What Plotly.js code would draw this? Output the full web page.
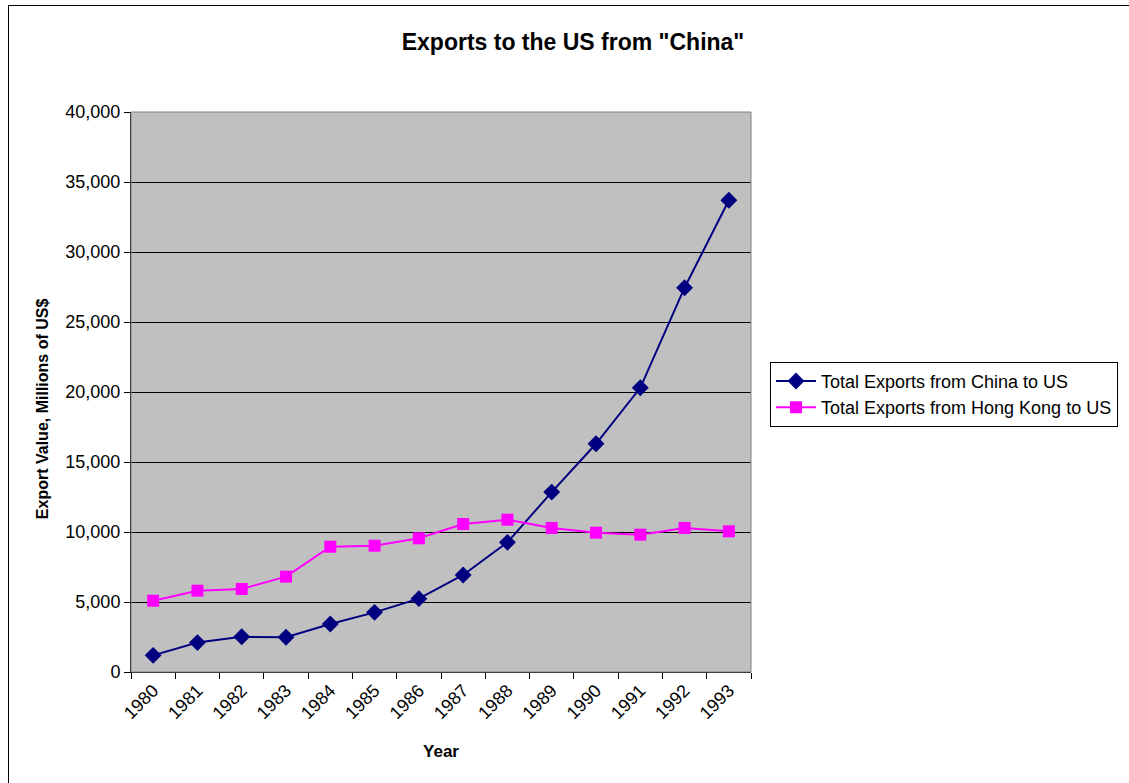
<!DOCTYPE html>
<html>
<head>
<meta charset="utf-8">
<script src="https://cdn.plot.ly/plotly-3.0.1.min.js"></script>
<style>
html,body{margin:0;padding:0;background:#fff;}
#chart{width:1129px;height:783px;}
#frame{position:absolute;left:8px;top:5px;width:1200px;height:900px;border:1px solid #000;pointer-events:none;}
</style>
</head>
<body>
<div id="chart"></div>
<div id="frame"></div>
<script>
const years = ['1980','1981','1982','1983','1984','1985','1986','1987','1988','1989','1990','1991','1992','1993'];
const chinaExports = [1190, 2100, 2520, 2480, 3430, 4260, 5240, 6930, 9260, 12850, 16300, 20300, 27450, 33700];
const hongKongExports = [5090, 5810, 5930, 6810, 8950, 9020, 9550, 10570, 10880, 10290, 9950, 9810, 10290, 10050];
const seriesNames = ['Total Exports from China to US', 'Total Exports from Hong Kong to US'];

const font = 'Arial, "Liberation Sans", sans-serif';

const traces = [
  {x: years, y: chinaExports, name: seriesNames[0], type: 'scatter', mode: 'lines+markers',
   line: {color: '#000080', width: 2}, marker: {symbol: 'diamond', size: 13, color: '#000080'}},
  {x: years, y: hongKongExports, name: seriesNames[1], type: 'scatter', mode: 'lines+markers',
   line: {color: '#ff00ff', width: 2}, marker: {symbol: 'square', size: 12, color: '#ff00ff'}}
];

const layout = {
  width: 1129, height: 783,
  margin: {l: 131, r: 377, t: 112, b: 111},
  paper_bgcolor: '#ffffff',
  plot_bgcolor: '#c0c0c0',
  font: {family: font, size: 18, color: '#000'},
  title: {text: '<b>Exports to the US from "China"</b>', font: {family: font, size: 23, color: '#000'},
          x: 573/1129, xanchor: 'center', xref: 'container', y: 1 - 42/783, yanchor: 'middle'},
  xaxis: {
    type: 'category', tickson: 'boundaries', ticks: 'outside', ticklen: 6, tickcolor: '#000',
    tickangle: -45, showline: true, linecolor: '#000', linewidth: 1, showgrid: false,
    tickfont: {family: font, size: 18, color: '#000'},
    title: {text: '<b>Year</b>', font: {family: font, size: 17, color: '#000'}, standoff: 22},
    range: [-0.5, 13.5], fixedrange: true
  },
  yaxis: {
    range: [0, 40000], dtick: 5000, tickformat: ',d', ticks: 'outside', ticklen: 6, tickcolor: '#000',
    showline: true, linecolor: '#000', linewidth: 1, showgrid: true, gridcolor: '#000', gridwidth: 1,
    zeroline: false, tickfont: {family: font, size: 18, color: '#000'},
    fixedrange: true
  },
  annotations: [
    {text: '<b>Export Value, Millions of US$</b>', textangle: -90, xref: 'paper', yref: 'paper',
     x: (42 - 131) / 621, y: (672 - 409) / 560, xanchor: 'center', yanchor: 'middle', showarrow: false,
     font: {family: font, size: 16, color: '#000'}}
  ],
  legend: {
    x: 1.029, xanchor: 'left', y: 0.554, yanchor: 'top',
    bgcolor: '#fff', bordercolor: '#000', borderwidth: 1,
    font: {family: font, size: 18, color: '#000'}, tracegroupgap: 0, itemwidth: 40
  },
  shapes: [
    {type: 'rect', xref: 'paper', yref: 'paper', x0: 0, x1: 1, y0: 0, y1: 1,
     line: {color: '#808080', width: 1}, fillcolor: 'rgba(0,0,0,0)', layer: 'above'}
  ],
  showlegend: true
};

Plotly.newPlot('chart', traces, layout, {displayModeBar: false, staticPlot: true});
</script>
</body>
</html>
